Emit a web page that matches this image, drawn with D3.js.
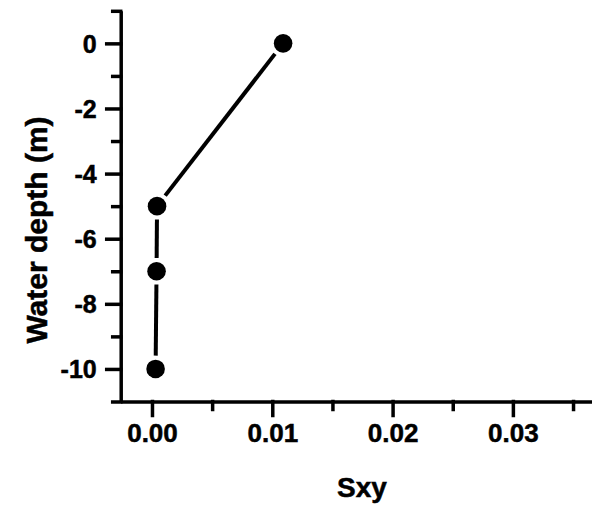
<!DOCTYPE html>
<html>
<head>
<meta charset="utf-8">
<script src="https://cdn.jsdelivr.net/npm/d3@7"></script>
<style>
  html, body { margin: 0; padding: 0; background: #fff; }
  svg { display: block; }
  text { font-family: "Liberation Sans", Arial, Helvetica, sans-serif; font-weight: bold; fill: #000; stroke: #000; stroke-width: 0.5px; }
</style>
</head>
<body>
<svg id="chart" width="592" height="509"></svg>
<script>
// Data
const depth = [0, -5, -7, -10];
const sxy = [0.0109, 0.00042, 0.00038, 0.0003];
const xMajorTicks = [0, 0.01, 0.02, 0.03];
const xMinorTicks = [0.005, 0.015, 0.025, 0.035];
const yMajorTicks = [0, -2, -4, -6, -8, -10];
const yMinorTicks = [1, -1, -3, -5, -7, -9, -11];
const xTickLabels = ["0.00", "0.01", "0.02", "0.03"];
const yTickLabels = ["0", "-2", "-4", "-6", "-8", "-10"];
const xTitle = "Sxy";
const yTitle = "Water depth (m)";

const svg = d3.select("#chart");
const x = d3.scaleLinear().domain([-0.0026, 0.037]).range([120.7, 597.1]);
const y = d3.scaleLinear().domain([-11, 1]).range([401.5, 10.8]);
const lw = 3.5;

// Y axis
const yMinor = d3.axisLeft(y).tickValues(yMinorTicks).tickSize(8).tickSizeOuter(0).tickFormat("");
const yMajor = d3.axisLeft(y).tickValues(yMajorTicks).tickSize(14).tickSizeOuter(0)
  .tickFormat((d, i) => yTickLabels[i]).tickPadding(10);
const gy = svg.append("g").attr("transform", `translate(${x(-0.0026)},0)`);
gy.call(yMinor);
const gy2 = svg.append("g").attr("transform", `translate(${x(-0.0026)},0)`);
gy2.call(yMajor);
gy2.select(".domain").remove();

// X axis
const xMinor = d3.axisBottom(x).tickValues(xMinorTicks).tickSize(8).tickSizeOuter(0).tickFormat("");
const xMajor = d3.axisBottom(x).tickValues(xMajorTicks).tickSize(14).tickSizeOuter(0)
  .tickFormat((d, i) => xTickLabels[i]).tickPadding(8);
const gx = svg.append("g").attr("transform", `translate(0,${y(-11)})`);
gx.call(xMinor);
const gx2 = svg.append("g").attr("transform", `translate(0,${y(-11)})`);
gx2.call(xMajor);
gx2.select(".domain").remove();

svg.selectAll("g").attr("font-size", null).attr("font-family", null);
svg.selectAll(".domain, .tick line").attr("stroke", "#000").attr("stroke-width", lw).attr("stroke-linecap", "square");
svg.selectAll(".domain").attr("stroke-linecap", "butt");
gy2.selectAll(".tick text").style("font-size", "25px").attr("fill", "#000").attr("dy", "0.36em");
gx2.selectAll(".tick text").style("font-size", "26px").attr("fill", "#000");

// Titles
svg.append("text").attr("x", 362).attr("y", 497).attr("text-anchor", "middle").style("font-size", "28px").text(xTitle);
svg.append("text").attr("transform", "translate(47,230) rotate(-90)").attr("text-anchor", "middle").style("font-size", "30px").text(yTitle);

// Data line segments with gaps around markers
const pts = depth.map((d, i) => ({ px: x(sxy[i]), py: y(d) }));
const r = 9.3, gap = 4;
const segs = d3.pairs(pts);
const off = (a, b, k) => { const dx = b.px - a.px, dy = b.py - a.py, L = Math.hypot(dx, dy); return [a.px + dx / L * k, a.py + dy / L * k]; };
svg.append("g").selectAll("line").data(segs).join("line")
  .attr("x1", d => off(d[0], d[1], r + gap)[0])
  .attr("y1", d => off(d[0], d[1], r + gap)[1])
  .attr("x2", d => off(d[1], d[0], r + gap)[0])
  .attr("y2", d => off(d[1], d[0], r + gap)[1])
  .attr("stroke", "#000").attr("stroke-width", 4);

svg.append("g").selectAll("circle").data(pts).join("circle")
  .attr("cx", d => d.px).attr("cy", d => d.py).attr("r", r).attr("fill", "#000");
</script>
</body>
</html>
